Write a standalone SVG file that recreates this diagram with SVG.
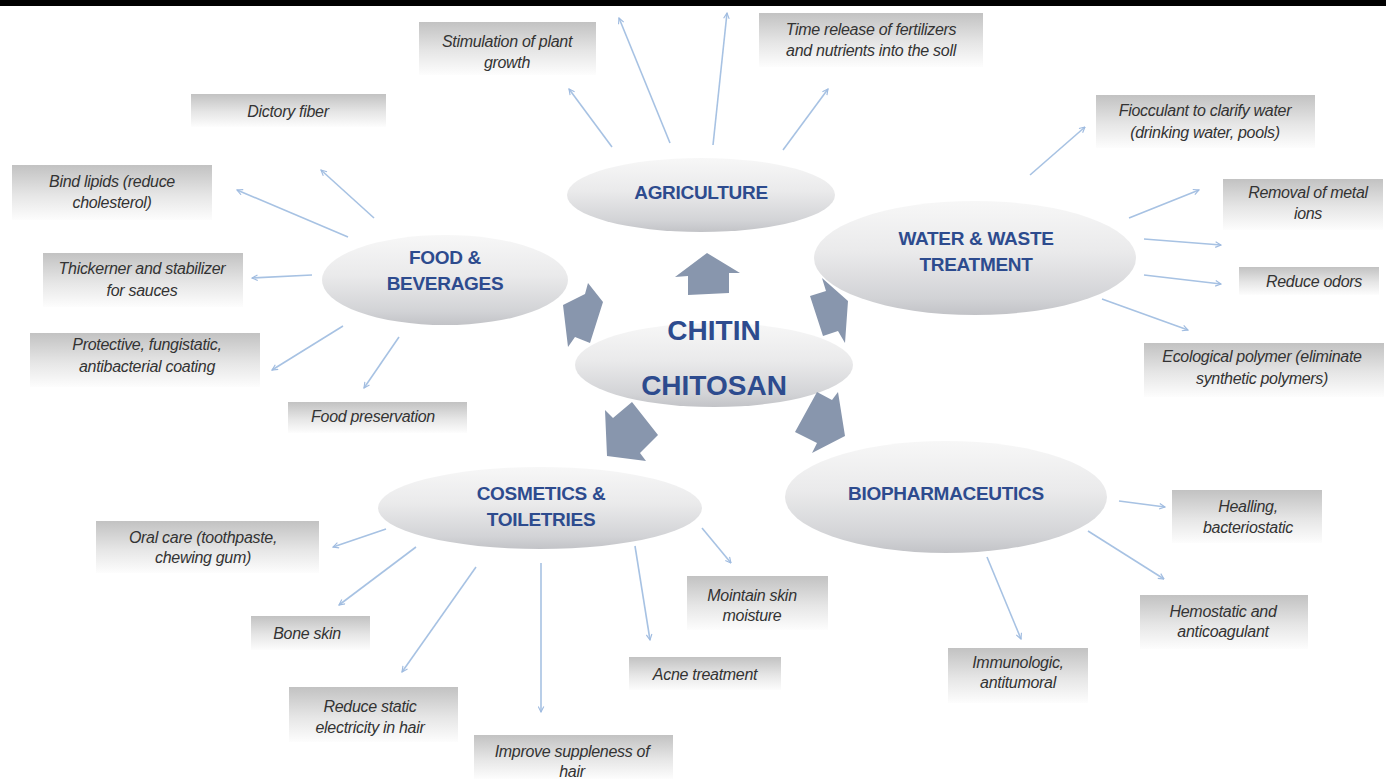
<svg xmlns="http://www.w3.org/2000/svg" width="1386" height="779" viewBox="0 0 1386 779">
<defs>
<linearGradient id="gBox" x1="0" y1="0" x2="0" y2="1">
<stop offset="0" stop-color="#c2c2c2"/>
<stop offset="0.55" stop-color="#e6e6e6"/>
<stop offset="1" stop-color="#fdfdfd"/>
</linearGradient>
<linearGradient id="gEll" x1="0" y1="0" x2="0" y2="1">
<stop offset="0" stop-color="#f7f7f7"/>
<stop offset="0.45" stop-color="#eaeaeb"/>
<stop offset="0.85" stop-color="#d2d3d6"/>
<stop offset="1" stop-color="#c2c3c7"/>
</linearGradient>
<marker id="ah" viewBox="0 0 10 10" refX="9" refY="5" markerWidth="7" markerHeight="7" markerUnits="userSpaceOnUse" orient="auto">
<path d="M1,1 L9,5 L1,9" fill="none" stroke="#9fbbe0" stroke-width="1.6"/>
</marker>
<style>
.box{fill:url(#gBox);}
.bt{font-family:"Liberation Sans",Arial,sans-serif;font-style:italic;font-size:16px;fill:#333;text-anchor:middle;letter-spacing:-0.3px;}
.ell{fill:url(#gEll);}
.ht{font-family:"Liberation Sans",Arial,sans-serif;font-weight:bold;font-size:19px;fill:#2d4b8e;text-anchor:middle;letter-spacing:-0.3px;}
.ct{font-family:"Liberation Sans",Arial,sans-serif;font-weight:bold;font-size:28px;fill:#2d4b8e;text-anchor:middle;}
.cn line{stroke:#a7c2e3;stroke-width:1.6;marker-end:url(#ah);}
.big{fill:#8896ad;}
</style>
</defs>
<rect x="0" y="0" width="1386" height="779" fill="#ffffff"/>
<rect x="0" y="0" width="1386" height="6" fill="#000000"/>

<g id="connectors" class="cn">
<line x1="612" y1="147" x2="569" y2="89"/>
<line x1="670" y1="143" x2="619" y2="18"/>
<line x1="713" y1="145" x2="727" y2="13"/>
<line x1="783" y1="150" x2="828" y2="89"/>
<line x1="1030" y1="175" x2="1085" y2="127"/>
<line x1="1129" y1="218" x2="1199" y2="190"/>
<line x1="1144" y1="239" x2="1221" y2="245"/>
<line x1="1144" y1="275" x2="1221" y2="284"/>
<line x1="1102" y1="299" x2="1188" y2="330"/>
<line x1="374" y1="218" x2="321" y2="170"/>
<line x1="348" y1="237" x2="237" y2="190"/>
<line x1="312" y1="275" x2="252" y2="278"/>
<line x1="343" y1="326" x2="272" y2="370"/>
<line x1="399" y1="337" x2="364" y2="388"/>
<line x1="386" y1="529" x2="333" y2="547"/>
<line x1="416" y1="547" x2="339" y2="605"/>
<line x1="476" y1="567" x2="402" y2="672"/>
<line x1="541" y1="563" x2="541" y2="712"/>
<line x1="635" y1="546" x2="650" y2="640"/>
<line x1="702" y1="528" x2="731" y2="563"/>
<line x1="1119" y1="501" x2="1165" y2="507"/>
<line x1="1088" y1="531" x2="1164" y2="579"/>
<line x1="987" y1="557" x2="1021" y2="639"/>
</g>

<g id="agriculture"><ellipse class="ell" cx="701" cy="195" rx="134" ry="37"/><text class="ht" x="701" y="199">AGRICULTURE</text></g>
<g id="food"><ellipse class="ell" cx="445" cy="280" rx="123" ry="45"/><text class="ht" x="445" y="264">FOOD &amp;</text><text class="ht" x="445" y="290">BEVERAGES</text></g>
<g id="water"><ellipse class="ell" cx="975" cy="258" rx="161" ry="57"/><text class="ht" x="976" y="245">WATER &amp; WASTE</text><text class="ht" x="976" y="271">TREATMENT</text></g>
<g id="cosmetics"><ellipse class="ell" cx="540" cy="508" rx="162" ry="41"/><text class="ht" x="541" y="500">COSMETICS &amp;</text><text class="ht" x="541" y="526">TOILETRIES</text></g>
<g id="biopharm"><ellipse class="ell" cx="946" cy="497" rx="161" ry="56"/><text class="ht" x="946" y="500">BIOPHARMACEUTICS</text></g>
<g id="chitin"><ellipse class="ell" cx="714" cy="365" rx="139" ry="42"/><text class="ct" x="714" y="340">CHITIN</text><text class="ct" x="714" y="395">CHITOSAN</text></g>

<g id="big-arrows">
<polygon class="big" points="688,295 688,276 675,277 707,253 740,273 729,273 729,293"/>
<polygon class="big" points="588,283 603,302 590,343 575,337 568,347 563,305 585,294"/>
<polygon class="big" points="822,278 848,301 845,343 838,331 823,336 810,296 826,291"/>
<polygon class="big" points="605,410 613,418 632,402 658,435 640,453 646,461 607,456"/>
<polygon class="big" points="795,432 817,392 832,400 838,392 845,436 812,453 817,443"/>
</g>

<g id="b-stim"><rect class="box" x="419" y="22" width="177" height="53"/><text class="bt" x="507" y="47">Stimulation of plant</text><text class="bt" x="507" y="68">growth</text></g>
<g id="b-time"><rect class="box" x="759" y="13" width="224" height="54"/><text class="bt" x="871" y="35">Time release of fertilizers</text><text class="bt" x="871" y="56">and nutrients into the soll</text></g>
<g id="b-dict"><rect class="box" x="191" y="94" width="195" height="33"/><text class="bt" x="288" y="117">Dictory fiber</text></g>
<g id="b-floc"><rect class="box" x="1096" y="95" width="219" height="53"/><text class="bt" x="1205" y="116">Fiocculant to clarify water</text><text class="bt" x="1205" y="138">(drinking water, pools)</text></g>
<g id="b-metal"><rect class="box" x="1223" y="179" width="160" height="51"/><text class="bt" x="1308" y="198">Removal of metal</text><text class="bt" x="1308" y="219">ions</text></g>
<g id="b-odor"><rect class="box" x="1239" y="267" width="140" height="28"/><text class="bt" x="1314" y="287">Reduce odors</text></g>
<g id="b-eco"><rect class="box" x="1144" y="343" width="240" height="54"/><text class="bt" x="1262" y="362">Ecological polymer (eliminate</text><text class="bt" x="1262" y="384">synthetic polymers)</text></g>
<g id="b-bind"><rect class="box" x="12" y="165" width="200" height="55"/><text class="bt" x="112" y="187">Bind lipids (reduce</text><text class="bt" x="112" y="208">cholesterol)</text></g>
<g id="b-thick"><rect class="box" x="43" y="253" width="200" height="54"/><text class="bt" x="142" y="274">Thickerner and stabilizer</text><text class="bt" x="142" y="296">for sauces</text></g>
<g id="b-prot"><rect class="box" x="30" y="333" width="230" height="54"/><text class="bt" x="147" y="350">Protective, fungistatic,</text><text class="bt" x="147" y="372">antibacterial coating</text></g>
<g id="b-pres"><rect class="box" x="288" y="402" width="179" height="31"/><text class="bt" x="373" y="422">Food preservation</text></g>
<g id="b-oral"><rect class="box" x="96" y="521" width="223" height="52"/><text class="bt" x="203" y="543">Oral care (toothpaste,</text><text class="bt" x="203" y="563">chewing gum)</text></g>
<g id="b-bone"><rect class="box" x="251" y="616" width="119" height="34"/><text class="bt" x="307" y="639">Bone skin</text></g>
<g id="b-static"><rect class="box" x="289" y="687" width="169" height="55"/><text class="bt" x="370" y="712">Reduce static</text><text class="bt" x="370" y="733">electricity in hair</text></g>
<g id="b-supple"><rect class="box" x="474" y="735" width="199" height="44"/><text class="bt" x="572" y="757">Improve suppleness of</text><text class="bt" x="572" y="777">hair</text></g>
<g id="b-acne"><rect class="box" x="629" y="657" width="152" height="33"/><text class="bt" x="705" y="680">Acne treatment</text></g>
<g id="b-moist"><rect class="box" x="687" y="576" width="141" height="54"/><text class="bt" x="752" y="601">Mointain skin</text><text class="bt" x="752" y="621">moisture</text></g>
<g id="b-heal"><rect class="box" x="1172" y="490" width="150" height="53"/><text class="bt" x="1248" y="512">Healling,</text><text class="bt" x="1248" y="533">bacteriostatic</text></g>
<g id="b-hemo"><rect class="box" x="1140" y="595" width="168" height="54"/><text class="bt" x="1223" y="617">Hemostatic and</text><text class="bt" x="1223" y="637">anticoagulant</text></g>
<g id="b-immu"><rect class="box" x="948" y="648" width="140" height="55"/><text class="bt" x="1018" y="668">Immunologic,</text><text class="bt" x="1018" y="688">antitumoral</text></g>
</svg>
